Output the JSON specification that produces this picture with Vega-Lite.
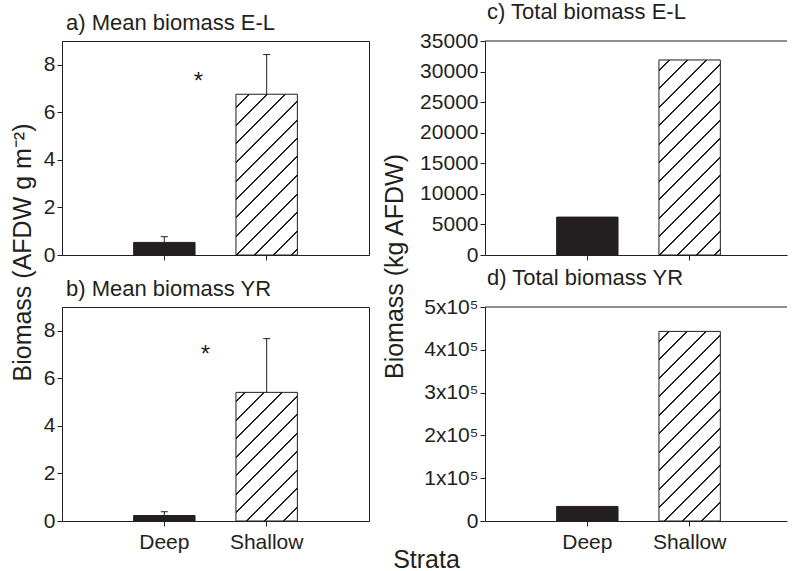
{
  "$schema": "https://vega.github.io/schema/vega-lite/v6.json",
  "autosize": {"type": "pad"},
  "padding": {"left": 9, "top": 1, "right": 0, "bottom": 0},
  "background": "white",
  "config": {
    "font": "Liberation Sans",
    "view": {"stroke": "#231f20", "strokeWidth": 1},
    "axis": {
      "domainColor": "#231f20", "tickColor": "#231f20", "labelColor": "#231f20", "titleColor": "#231f20",
      "labelFont": "Liberation Sans", "labelFontSize": 21, "grid": false, "tickSize": 5, "labelPadding": 2,
      "titleFont": "Liberation Sans", "titleFontSize": 25, "titleFontWeight": "normal",
      "labelFlush": false, "labelOverlap": false
    },
    "title": {"font": "Liberation Sans", "fontSize": 22, "fontWeight": "normal", "color": "#231f20", "anchor": "start", "frame": "group"}
  },
  "datasets": {
    "bio": [
      {"panel": "a", "strata": "Deep", "value": 0.53, "upper": 0.77},
      {"panel": "a", "strata": "Shallow", "value": 6.76, "upper": 8.43},
      {"panel": "b", "strata": "Deep", "value": 0.23, "upper": 0.39},
      {"panel": "b", "strata": "Shallow", "value": 5.41, "upper": 7.67},
      {"panel": "c", "strata": "Deep", "value": 6200},
      {"panel": "c", "strata": "Shallow", "value": 31900},
      {"panel": "d", "strata": "Deep", "value": 34000},
      {"panel": "d", "strata": "Shallow", "value": 443000}
    ],
    "stars": [
      {"panel": "a", "strata": "Deep", "y": 7.0, "label": "*"},
      {"panel": "b", "strata": "Deep", "y": 6.68, "label": "*"}
    ]
  },
  "columns": 2,
  "bounds": "flush",
  "spacing": {"row": 52, "column": 116},
  "concat": [
    {
      "width": 307, "height": 214,
      "title": {"text": "a) Mean biomass E-L", "dx": 4, "offset": -11, "baseline": "alphabetic", "frame": "group"},
      "layer": [
        {
          "data": {"name": "bio"}, "transform": [{"filter": "datum.panel === 'a'"}],
          "mark": {"type": "bar", "stroke": "#231f20", "strokeWidth": 1},
          "encoding": {
            "x": {"field": "strata", "type": "nominal", "sort": ["Deep", "Shallow"], "scale": {"paddingInner": 0.4, "paddingOuter": 0.7}, "axis": {"labels": false, "title": null}},
            "y": {"field": "value", "type": "quantitative", "scale": {"domain": [0, 9], "nice": false}, "axis": {"values": [0, 2, 4, 6, 8], "title": "Biomass (AFDW g m⁻²)", "titleX": -32, "titleY": 211, "titleAngle": 270, "titleAlign": "center", "titleBaseline": "alphabetic"}},
            "fill": {"condition": {"test": "datum.strata === 'Deep'", "value": "#231f20"}, "value": {"gradient": "linear", "x1": 0, "y1": 0, "x2": 0.4608, "y2": 1.2061, "stops": [
              {"offset": 0, "color": "#ffffff"},
              {"offset": 0.0535, "color": "#ffffff"}, {"offset": 0.0535, "color": "#231f20"}, {"offset": 0.0625, "color": "#231f20"}, {"offset": 0.0625, "color": "#ffffff"},
              {"offset": 0.1365, "color": "#ffffff"}, {"offset": 0.1365, "color": "#231f20"}, {"offset": 0.1455, "color": "#231f20"}, {"offset": 0.1455, "color": "#ffffff"},
              {"offset": 0.2195, "color": "#ffffff"}, {"offset": 0.2195, "color": "#231f20"}, {"offset": 0.2285, "color": "#231f20"}, {"offset": 0.2285, "color": "#ffffff"},
              {"offset": 0.3035, "color": "#ffffff"}, {"offset": 0.3035, "color": "#231f20"}, {"offset": 0.3125, "color": "#231f20"}, {"offset": 0.3125, "color": "#ffffff"},
              {"offset": 0.3865, "color": "#ffffff"}, {"offset": 0.3865, "color": "#231f20"}, {"offset": 0.3955, "color": "#231f20"}, {"offset": 0.3955, "color": "#ffffff"},
              {"offset": 0.4695, "color": "#ffffff"}, {"offset": 0.4695, "color": "#231f20"}, {"offset": 0.4785, "color": "#231f20"}, {"offset": 0.4785, "color": "#ffffff"},
              {"offset": 0.5525, "color": "#ffffff"}, {"offset": 0.5525, "color": "#231f20"}, {"offset": 0.5615, "color": "#231f20"}, {"offset": 0.5615, "color": "#ffffff"},
              {"offset": 0.6365, "color": "#ffffff"}, {"offset": 0.6365, "color": "#231f20"}, {"offset": 0.6455, "color": "#231f20"}, {"offset": 0.6455, "color": "#ffffff"},
              {"offset": 0.7195, "color": "#ffffff"}, {"offset": 0.7195, "color": "#231f20"}, {"offset": 0.7285, "color": "#231f20"}, {"offset": 0.7285, "color": "#ffffff"},
              {"offset": 0.8025, "color": "#ffffff"}, {"offset": 0.8025, "color": "#231f20"}, {"offset": 0.8115, "color": "#231f20"}, {"offset": 0.8115, "color": "#ffffff"},
              {"offset": 0.8865, "color": "#ffffff"}, {"offset": 0.8865, "color": "#231f20"}, {"offset": 0.8955, "color": "#231f20"}, {"offset": 0.8955, "color": "#ffffff"},
              {"offset": 0.9695, "color": "#ffffff"}, {"offset": 0.9695, "color": "#231f20"}, {"offset": 0.9785, "color": "#231f20"}, {"offset": 0.9785, "color": "#ffffff"},
              {"offset": 1, "color": "#ffffff"}
            ]}}
          }
        },
        {
          "data": {"name": "bio"}, "transform": [{"filter": "datum.panel === 'a'"}],
          "mark": {"type": "rule", "color": "#231f20", "strokeWidth": 1},
          "encoding": {"x": {"field": "strata", "type": "nominal"}, "y": {"field": "value", "type": "quantitative"}, "y2": {"field": "upper"}}
        },
        {
          "data": {"name": "bio"}, "transform": [{"filter": "datum.panel === 'a'"}],
          "mark": {"type": "tick", "orient": "horizontal", "size": 7, "thickness": 1, "color": "#231f20", "opacity": 1},
          "encoding": {"x": {"field": "strata", "type": "nominal"}, "y": {"field": "upper", "type": "quantitative"}}
        },
        {
          "data": {"name": "stars"}, "transform": [{"filter": "datum.panel === 'a'"}],
          "mark": {"type": "text", "fontSize": 24, "dx": 34, "baseline": "alphabetic", "align": "center", "color": "#231f20"},
          "encoding": {"x": {"field": "strata", "type": "nominal"}, "y": {"field": "y", "type": "quantitative"}, "text": {"field": "label"}}
        }
      ]
    },
    {
      "width": 302, "height": 214,
      "view": {"stroke": null},
      "title": {"text": "c) Total biomass E-L", "dx": 2, "offset": -11, "baseline": "alphabetic", "frame": "group"},
      "layer": [
        {
          "data": {"name": "bio"}, "transform": [{"filter": "datum.panel === 'c'"}],
          "mark": {"type": "bar", "stroke": "#231f20", "strokeWidth": 1},
          "encoding": {
            "x": {"field": "strata", "type": "nominal", "sort": ["Deep", "Shallow"], "scale": {"paddingInner": 0.4, "paddingOuter": 0.676, "align": 0.518}, "axis": {"labels": false, "title": null}},
            "y": {"field": "value", "type": "quantitative", "scale": {"domain": [0, 35000], "nice": false}, "axis": {"values": [0, 5000, 10000, 15000, 20000, 25000, 30000, 35000], "format": "d", "title": "Biomass (kg AFDW)", "titleX": -83, "titleY": 225, "titleAngle": 270, "titleAlign": "center", "titleBaseline": "alphabetic"}},
            "fill": {"condition": {"test": "datum.strata === 'Deep'", "value": "#231f20"}, "value": {"gradient": "linear", "x1": 0, "y1": 0, "x2": 0.3767, "y2": 1.1963, "stops": [
              {"offset": 0, "color": "#ffffff"},
              {"offset": 0.0361, "color": "#ffffff"}, {"offset": 0.0361, "color": "#231f20"}, {"offset": 0.0439, "color": "#231f20"}, {"offset": 0.0439, "color": "#ffffff"},
              {"offset": 0.1081, "color": "#ffffff"}, {"offset": 0.1081, "color": "#231f20"}, {"offset": 0.1159, "color": "#231f20"}, {"offset": 0.1159, "color": "#ffffff"},
              {"offset": 0.1801, "color": "#ffffff"}, {"offset": 0.1801, "color": "#231f20"}, {"offset": 0.1879, "color": "#231f20"}, {"offset": 0.1879, "color": "#ffffff"},
              {"offset": 0.2531, "color": "#ffffff"}, {"offset": 0.2531, "color": "#231f20"}, {"offset": 0.2609, "color": "#231f20"}, {"offset": 0.2609, "color": "#ffffff"},
              {"offset": 0.3251, "color": "#ffffff"}, {"offset": 0.3251, "color": "#231f20"}, {"offset": 0.3329, "color": "#231f20"}, {"offset": 0.3329, "color": "#ffffff"},
              {"offset": 0.3971, "color": "#ffffff"}, {"offset": 0.3971, "color": "#231f20"}, {"offset": 0.4049, "color": "#231f20"}, {"offset": 0.4049, "color": "#ffffff"},
              {"offset": 0.4691, "color": "#ffffff"}, {"offset": 0.4691, "color": "#231f20"}, {"offset": 0.4769, "color": "#231f20"}, {"offset": 0.4769, "color": "#ffffff"},
              {"offset": 0.5411, "color": "#ffffff"}, {"offset": 0.5411, "color": "#231f20"}, {"offset": 0.5489, "color": "#231f20"}, {"offset": 0.5489, "color": "#ffffff"},
              {"offset": 0.6141, "color": "#ffffff"}, {"offset": 0.6141, "color": "#231f20"}, {"offset": 0.6219, "color": "#231f20"}, {"offset": 0.6219, "color": "#ffffff"},
              {"offset": 0.6861, "color": "#ffffff"}, {"offset": 0.6861, "color": "#231f20"}, {"offset": 0.6939, "color": "#231f20"}, {"offset": 0.6939, "color": "#ffffff"},
              {"offset": 0.7581, "color": "#ffffff"}, {"offset": 0.7581, "color": "#231f20"}, {"offset": 0.7659, "color": "#231f20"}, {"offset": 0.7659, "color": "#ffffff"},
              {"offset": 0.8301, "color": "#ffffff"}, {"offset": 0.8301, "color": "#231f20"}, {"offset": 0.8379, "color": "#231f20"}, {"offset": 0.8379, "color": "#ffffff"},
              {"offset": 0.9021, "color": "#ffffff"}, {"offset": 0.9021, "color": "#231f20"}, {"offset": 0.9099, "color": "#231f20"}, {"offset": 0.9099, "color": "#ffffff"},
              {"offset": 0.9741, "color": "#ffffff"}, {"offset": 0.9741, "color": "#231f20"}, {"offset": 0.9819, "color": "#231f20"}, {"offset": 0.9819, "color": "#ffffff"},
              {"offset": 1, "color": "#ffffff"}
            ]}}
          }
        },
        {
          "data": {"name": "bio"}, "transform": [{"filter": "datum.panel === 'c' && datum.strata === 'Deep'"}],
          "mark": {"type": "rule", "color": "#231f20", "strokeWidth": 1},
          "encoding": {"y": {"datum": 35000, "type": "quantitative", "axis": {"values": [0, 5000, 10000, 15000, 20000, 25000, 30000, 35000], "format": "d", "title": "Biomass (kg AFDW)", "titleX": -83, "titleY": 225, "titleAngle": 270, "titleAlign": "center", "titleBaseline": "alphabetic"}}}
        }
      ]
    },
    {
      "width": 307, "height": 214,
      "title": {"text": "b) Mean biomass YR", "dx": 4, "offset": -11, "baseline": "alphabetic", "frame": "group"},
      "layer": [
        {
          "data": {"name": "bio"}, "transform": [{"filter": "datum.panel === 'b'"}],
          "mark": {"type": "bar", "stroke": "#231f20", "strokeWidth": 1},
          "encoding": {
            "x": {"field": "strata", "type": "nominal", "sort": ["Deep", "Shallow"], "scale": {"paddingInner": 0.4, "paddingOuter": 0.7}, "axis": {"labelAngle": 0, "labelPadding": 5, "title": "Strata", "titleX": 364, "titleY": 46, "titleAlign": "center", "titleBaseline": "alphabetic", "titleAngle": 0}},
            "y": {"field": "value", "type": "quantitative", "scale": {"domain": [0, 9], "nice": false}, "axis": {"values": [0, 2, 4, 6, 8], "title": null}},
            "fill": {"condition": {"test": "datum.strata === 'Deep'", "value": "#231f20"}, "value": {"gradient": "linear", "x1": 0, "y1": 0, "x2": 0.5745, "y2": 1.2032, "stops": [
              {"offset": 0, "color": "#ffffff"},
              {"offset": 0.0447, "color": "#ffffff"}, {"offset": 0.0447, "color": "#231f20"}, {"offset": 0.0553, "color": "#231f20"}, {"offset": 0.0553, "color": "#ffffff"},
              {"offset": 0.1417, "color": "#ffffff"}, {"offset": 0.1417, "color": "#231f20"}, {"offset": 0.1523, "color": "#231f20"}, {"offset": 0.1523, "color": "#ffffff"},
              {"offset": 0.2397, "color": "#ffffff"}, {"offset": 0.2397, "color": "#231f20"}, {"offset": 0.2503, "color": "#231f20"}, {"offset": 0.2503, "color": "#ffffff"},
              {"offset": 0.3367, "color": "#ffffff"}, {"offset": 0.3367, "color": "#231f20"}, {"offset": 0.3473, "color": "#231f20"}, {"offset": 0.3473, "color": "#ffffff"},
              {"offset": 0.4347, "color": "#ffffff"}, {"offset": 0.4347, "color": "#231f20"}, {"offset": 0.4453, "color": "#231f20"}, {"offset": 0.4453, "color": "#ffffff"},
              {"offset": 0.5317, "color": "#ffffff"}, {"offset": 0.5317, "color": "#231f20"}, {"offset": 0.5423, "color": "#231f20"}, {"offset": 0.5423, "color": "#ffffff"},
              {"offset": 0.6287, "color": "#ffffff"}, {"offset": 0.6287, "color": "#231f20"}, {"offset": 0.6393, "color": "#231f20"}, {"offset": 0.6393, "color": "#ffffff"},
              {"offset": 0.7267, "color": "#ffffff"}, {"offset": 0.7267, "color": "#231f20"}, {"offset": 0.7373, "color": "#231f20"}, {"offset": 0.7373, "color": "#ffffff"},
              {"offset": 0.8237, "color": "#ffffff"}, {"offset": 0.8237, "color": "#231f20"}, {"offset": 0.8343, "color": "#231f20"}, {"offset": 0.8343, "color": "#ffffff"},
              {"offset": 0.9217, "color": "#ffffff"}, {"offset": 0.9217, "color": "#231f20"}, {"offset": 0.9323, "color": "#231f20"}, {"offset": 0.9323, "color": "#ffffff"},
              {"offset": 1, "color": "#ffffff"}
            ]}}
          }
        },
        {
          "data": {"name": "bio"}, "transform": [{"filter": "datum.panel === 'b'"}],
          "mark": {"type": "rule", "color": "#231f20", "strokeWidth": 1},
          "encoding": {"x": {"field": "strata", "type": "nominal"}, "y": {"field": "value", "type": "quantitative"}, "y2": {"field": "upper"}}
        },
        {
          "data": {"name": "bio"}, "transform": [{"filter": "datum.panel === 'b'"}],
          "mark": {"type": "tick", "orient": "horizontal", "size": 7, "thickness": 1, "color": "#231f20", "opacity": 1},
          "encoding": {"x": {"field": "strata", "type": "nominal"}, "y": {"field": "upper", "type": "quantitative"}}
        },
        {
          "data": {"name": "stars"}, "transform": [{"filter": "datum.panel === 'b'"}],
          "mark": {"type": "text", "fontSize": 24, "dx": 41, "baseline": "alphabetic", "align": "center", "color": "#231f20"},
          "encoding": {"x": {"field": "strata", "type": "nominal"}, "y": {"field": "y", "type": "quantitative"}, "text": {"field": "label"}}
        }
      ]
    },
    {
      "width": 302, "height": 214,
      "view": {"stroke": null},
      "title": {"text": "d) Total biomass YR", "dx": 2, "offset": -11, "baseline": "alphabetic", "frame": "group"},
      "layer": [
        {
          "data": {"name": "bio"}, "transform": [{"filter": "datum.panel === 'd'"}],
          "mark": {"type": "bar", "stroke": "#231f20", "strokeWidth": 1},
          "encoding": {
            "x": {"field": "strata", "type": "nominal", "sort": ["Deep", "Shallow"], "scale": {"paddingInner": 0.4, "paddingOuter": 0.676, "align": 0.518}, "axis": {"labelAngle": 0, "labelPadding": 5, "title": null}},
            "y": {"field": "value", "type": "quantitative", "scale": {"domain": [0, 500000], "nice": false}, "axis": {"values": [0, 100000, 200000, 300000, 400000, 500000], "labelExpr": "datum.value === 0 ? '0' : (datum.value / 100000) + 'x10⁵'", "title": null}},
            "fill": {"condition": {"test": "datum.strata === 'Deep'", "value": "#231f20"}, "value": {"gradient": "linear", "x1": 0, "y1": 0, "x2": 0.388, "y2": 1.198, "stops": [
              {"offset": 0, "color": "#ffffff"},
              {"offset": 0.036, "color": "#ffffff"}, {"offset": 0.036, "color": "#231f20"}, {"offset": 0.044, "color": "#231f20"}, {"offset": 0.044, "color": "#ffffff"},
              {"offset": 0.110, "color": "#ffffff"}, {"offset": 0.110, "color": "#231f20"}, {"offset": 0.118, "color": "#231f20"}, {"offset": 0.118, "color": "#ffffff"},
              {"offset": 0.183, "color": "#ffffff"}, {"offset": 0.183, "color": "#231f20"}, {"offset": 0.191, "color": "#231f20"}, {"offset": 0.191, "color": "#ffffff"},
              {"offset": 0.257, "color": "#ffffff"}, {"offset": 0.257, "color": "#231f20"}, {"offset": 0.265, "color": "#231f20"}, {"offset": 0.265, "color": "#ffffff"},
              {"offset": 0.331, "color": "#ffffff"}, {"offset": 0.331, "color": "#231f20"}, {"offset": 0.339, "color": "#231f20"}, {"offset": 0.339, "color": "#ffffff"},
              {"offset": 0.405, "color": "#ffffff"}, {"offset": 0.405, "color": "#231f20"}, {"offset": 0.413, "color": "#231f20"}, {"offset": 0.413, "color": "#ffffff"},
              {"offset": 0.478, "color": "#ffffff"}, {"offset": 0.478, "color": "#231f20"}, {"offset": 0.486, "color": "#231f20"}, {"offset": 0.486, "color": "#ffffff"},
              {"offset": 0.552, "color": "#ffffff"}, {"offset": 0.552, "color": "#231f20"}, {"offset": 0.560, "color": "#231f20"}, {"offset": 0.560, "color": "#ffffff"},
              {"offset": 0.626, "color": "#ffffff"}, {"offset": 0.626, "color": "#231f20"}, {"offset": 0.634, "color": "#231f20"}, {"offset": 0.634, "color": "#ffffff"},
              {"offset": 0.699, "color": "#ffffff"}, {"offset": 0.699, "color": "#231f20"}, {"offset": 0.707, "color": "#231f20"}, {"offset": 0.707, "color": "#ffffff"},
              {"offset": 0.773, "color": "#ffffff"}, {"offset": 0.773, "color": "#231f20"}, {"offset": 0.781, "color": "#231f20"}, {"offset": 0.781, "color": "#ffffff"},
              {"offset": 0.847, "color": "#ffffff"}, {"offset": 0.847, "color": "#231f20"}, {"offset": 0.855, "color": "#231f20"}, {"offset": 0.855, "color": "#ffffff"},
              {"offset": 0.920, "color": "#ffffff"}, {"offset": 0.920, "color": "#231f20"}, {"offset": 0.928, "color": "#231f20"}, {"offset": 0.928, "color": "#ffffff"},
              {"offset": 1, "color": "#ffffff"}
            ]}}
          }
        },
        {
          "data": {"name": "bio"}, "transform": [{"filter": "datum.panel === 'd' && datum.strata === 'Deep'"}],
          "mark": {"type": "rule", "color": "#231f20", "strokeWidth": 1},
          "encoding": {"y": {"datum": 500000, "type": "quantitative", "axis": {"values": [0, 100000, 200000, 300000, 400000, 500000], "labelExpr": "datum.value === 0 ? '0' : (datum.value / 100000) + 'x10⁵'", "title": null}}}
        }
      ]
    }
  ]
}
